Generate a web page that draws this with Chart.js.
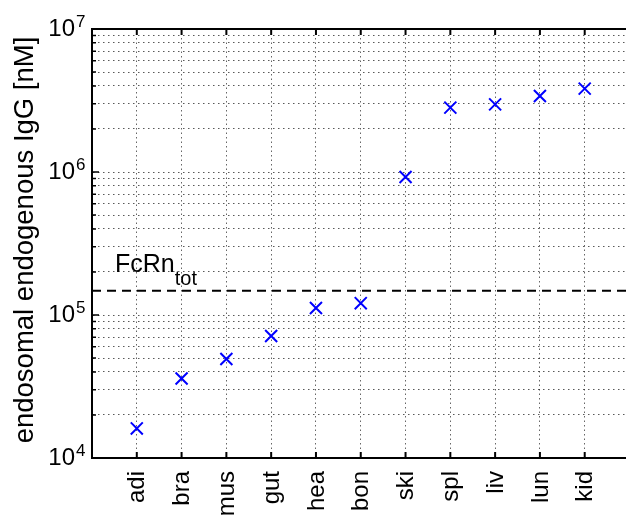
<!DOCTYPE html>
<html>
<head>
<meta charset="utf-8">
<script src="https://cdn.jsdelivr.net/npm/chart.js@4.4.0/dist/chart.umd.min.js"></script>
<style>
  html, body { margin: 0; padding: 0; background: #fff; overflow: hidden; }
  #wrap { width: 640px; height: 515px; }
</style>
</head>
<body>
<div id="wrap"><canvas id="igg" width="640" height="515"></canvas></div>
<script>
// tissues (abbreviated) and endosomal endogenous IgG concentrations [nM]
const tissues = ['adi', 'bra', 'mus', 'gut', 'hea', 'bon', 'ski', 'spl', 'liv', 'lun', 'kid'];
const iggEndo = [16100, 36000, 49200, 71300, 112000, 121000, 923000, 2820000, 2970000, 3400000, 3830000];
// total FcRn concentration, drawn as a dashed reference line
const fcrnTot = 148000;
// decade exponents shown on the y axis
const yDecades = [4, 5, 6, 7];

const FONT = '"Liberation Sans", Arial, Helvetica, sans-serif';

const points = tissues.map((t, i) => ({ x: i + 1, y: iggEndo[i] }));

// log grid lines at 1..9 x 10^k
function logGridTicks() {
    const ticks = [];
    for (let k = yDecades[0]; k < yDecades[yDecades.length - 1]; k++) {
        for (let m = 1; m < 10; m++) ticks.push({ value: m * Math.pow(10, k) });
    }
    ticks.push({ value: Math.pow(10, yDecades[yDecades.length - 1]) });
    return ticks;
}

// axis labels, tick marks and the FcRn annotation
const axisDecor = {
    id: 'axisDecor',
    afterDraw(chart) {
        const { ctx, chartArea: area, scales: { x, y } } = chart;
        ctx.save();
        ctx.fillStyle = '#000';
        ctx.strokeStyle = '#000';

        // top frame line
        ctx.lineWidth = 2;
        ctx.beginPath();
        ctx.moveTo(area.left - 1, area.top);
        ctx.lineTo(chart.width, area.top);
        ctx.stroke();

        // inward tick marks
        ctx.lineWidth = 2;
        ctx.beginPath();
        tissues.forEach((t, i) => {
            const px = x.getPixelForValue(i + 1);
            ctx.moveTo(px, area.bottom); ctx.lineTo(px, area.bottom - 6);
            ctx.moveTo(px, area.top); ctx.lineTo(px, area.top + 6);
        });
        ctx.stroke();
        ctx.lineWidth = 1.5;
        ctx.beginPath();
        y.ticks.forEach(tk => {
            const py = y.getPixelForValue(tk.value);
            const major = Math.abs(Math.log10(tk.value) % 1) < 1e-9;
            ctx.moveTo(area.left, py); ctx.lineTo(area.left + (major ? 7 : 4), py);
        });
        ctx.stroke();

        // y tick labels: 10^k
        yDecades.forEach(k => {
            const py = y.getPixelForValue(Math.pow(10, k));
            ctx.font = '24px ' + FONT;
            ctx.textAlign = 'right';
            ctx.textBaseline = 'middle';
            ctx.fillText('10', 75, py);
            ctx.font = '17px ' + FONT;
            ctx.textAlign = 'left';
            ctx.textBaseline = 'alphabetic';
            ctx.fillText(String(k), 76, py - 2);
        });

        // x tick labels, rotated
        ctx.font = '24px ' + FONT;
        ctx.textAlign = 'right';
        ctx.textBaseline = 'middle';
        tissues.forEach((t, i) => {
            ctx.save();
            ctx.translate(x.getPixelForValue(i + 1) + 1, area.bottom + 13);
            ctx.rotate(-Math.PI / 2);
            ctx.fillText(t, 0, 0);
            ctx.restore();
        });

        // y axis title
        ctx.save();
        ctx.translate(33, 240);
        ctx.rotate(-Math.PI / 2);
        ctx.font = '27.5px ' + FONT;
        ctx.textAlign = 'center';
        ctx.textBaseline = 'alphabetic';
        ctx.fillText('endosomal endogenous IgG [nM]', 0, 0);
        ctx.restore();

        // FcRn_tot annotation above the dashed line
        const ly = y.getPixelForValue(fcrnTot);
        ctx.font = '25px ' + FONT;
        ctx.textAlign = 'left';
        ctx.textBaseline = 'alphabetic';
        ctx.fillText('FcRn', 115, ly - 19);
        const w = ctx.measureText('FcRn').width;
        ctx.font = '20px ' + FONT;
        ctx.fillText('tot', 115 + w, ly - 6);

        ctx.restore();
    }
};

new Chart(document.getElementById('igg'), {
    type: 'scatter',
    data: {
        datasets: [
            {
                label: 'IgG',
                data: points,
                pointStyle: 'crossRot',
                pointRadius: 8.5,
                pointBorderWidth: 2,
                borderColor: '#0000ff',
                backgroundColor: '#0000ff',
                order: 1
            },
            {
                type: 'line',
                label: 'FcRn tot',
                data: [{ x: 0, y: fcrnTot }, { x: tissues.length + 1, y: fcrnTot }],
                borderColor: '#000',
                borderWidth: 2,
                borderDash: [9, 6],
                pointRadius: 0,
                fill: false,
                order: 2
            }
        ]
    },
    options: {
        responsive: false,
        animation: false,
        layout: { padding: { left: 92, top: 29, right: 2, bottom: 57 } },
        plugins: {
            legend: { display: false },
            tooltip: { enabled: false }
        },
        scales: {
            x: {
                type: 'linear',
                min: 0,
                max: tissues.length + 1,
                afterBuildTicks: scale => { scale.ticks = tissues.map((t, i) => ({ value: i + 1 })); },
                ticks: { display: false },
                grid: { color: 'rgba(0,0,0,0.6)', lineWidth: 1, drawTicks: false },
                border: { display: true, color: '#000', width: 2, dash: [1.5, 3] }
            },
            y: {
                type: 'logarithmic',
                min: Math.pow(10, yDecades[0]),
                max: Math.pow(10, yDecades[yDecades.length - 1]),
                afterBuildTicks: scale => { scale.ticks = logGridTicks(); },
                ticks: { display: false },
                grid: { color: 'rgba(0,0,0,0.65)', lineWidth: 1, drawTicks: false },
                border: { display: true, color: '#000', width: 2, dash: [1.5, 3.5] }
            }
        }
    },
    plugins: [axisDecor]
});
</script>
</body>
</html>
